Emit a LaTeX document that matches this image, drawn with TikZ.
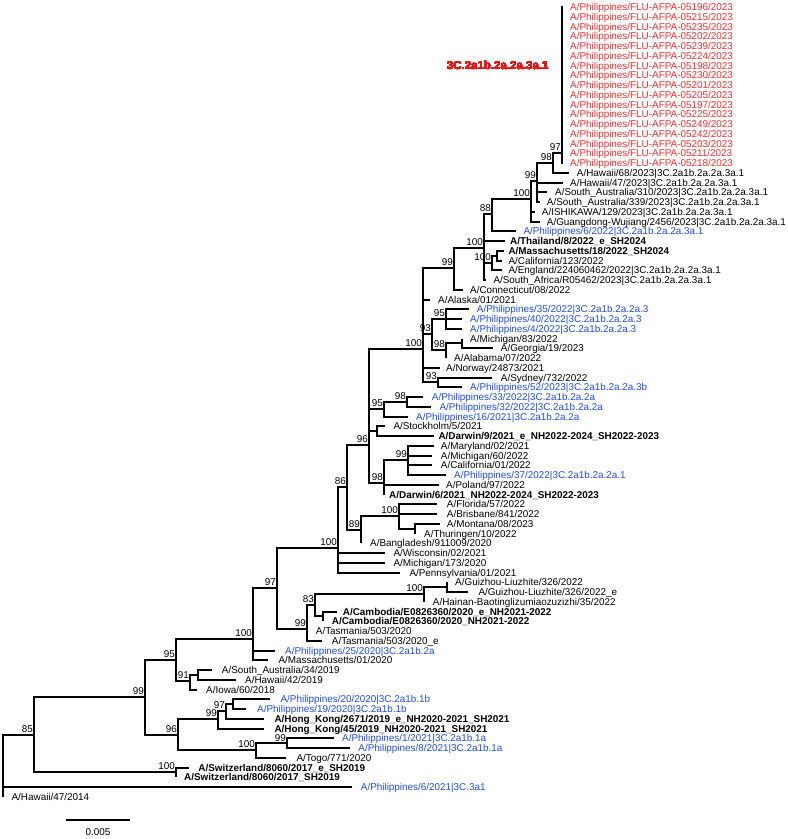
\documentclass[tikz,border=0pt]{standalone}
\usepackage{fontspec}
\setmainfont{Liberation Sans}
\definecolor{tipred}{RGB}{255,45,45}
\definecolor{tipblue}{RGB}{30,75,255}
\definecolor{cladered}{RGB}{235,20,20}
\newcommand{\treefont}{\fontsize{9.9pt}{11pt}\selectfont}
% one tip: row, end of branch, start of label, parent, style, text
\newcommand{\leaf}[6]{%
  \coordinate (e#1) at (#2,{7+9.75*(#1-1)});
  \node[#5] (t#1) at (#3,{7+9.75*(#1-1)}) {#6};
  \draw[branch] (#4) |- (e#1);}

\begin{document}
\begin{tikzpicture}[x=1pt,y=-1pt,
    branch/.style={line width=2pt},
    lab/.style={anchor=base west,inner sep=0pt,yshift=-3.55pt,font=\treefont},
    redlab/.style={lab,text=tipred},
    bluelab/.style={lab,text=tipblue},
    vaclab/.style={lab,font=\treefont\bfseries},
    bs/.style={anchor=base east,inner sep=0pt,xshift=-1pt,yshift=2.9pt,font=\treefont}]
\useasboundingbox (0,0) rectangle (788,839);

% internal nodes
\coordinate (root) at (3,766);
\coordinate (n85) at (34,735);
\coordinate (n99d) at (145,697);
\coordinate (n95c) at (176,660);
\coordinate (n100b) at (253,639);
\coordinate (n97) at (277,588);
\coordinate (n100c) at (338,548);
\coordinate (n86) at (347,487);
\coordinate (n96) at (369,445);
\coordinate (nMain) at (423,349);
\coordinate (n99b) at (454,268);
\coordinate (n100t) at (484,248);
\coordinate (n88) at (492,214);
\coordinate (n100a) at (531,199);
\coordinate (n99) at (537,181);
\coordinate (n98) at (553,163);
\coordinate (nR) at (562,153);
\coordinate (nMass) at (492,263);
\coordinate (nMC) at (497,256);
\coordinate (n93) at (432,334);
\coordinate (n95a) at (446,319);
\coordinate (n98a) at (446,350);
\coordinate (nMG) at (462,343);
\coordinate (n93s) at (438,382);
\coordinate (n95b) at (384,409);
\coordinate (n98b) at (407,402);
\coordinate (nSt) at (377,431);
\coordinate (n98c) at (384,483);
\coordinate (n99c) at (408,460);
\coordinate (n89) at (361,530);
\coordinate (nF100) at (399,516);
\coordinate (nMT) at (415,529);
\coordinate (n99cam) at (307,629);
\coordinate (n83) at (315,605);
\coordinate (nGz100) at (424,594);
\coordinate (nGz) at (447,587);
\coordinate (nCam) at (323,616);
\coordinate (n91) at (190,681);
\coordinate (nSH) at (198,675);
\coordinate (n96b) at (178,735);
\coordinate (n99e) at (218,719);
\coordinate (n97b) at (226,711);
\coordinate (nPh) at (233,704);
\coordinate (n100d) at (256,750);
\coordinate (n99f) at (287,743);
\coordinate (n100sw) at (176,772);

% backbone
\foreach \a/\b in {root/n85,n85/n99d,n85/n100sw,n99d/n95c,n99d/n96b,
    n95c/n100b,n95c/n91,n91/nSH,n100b/n97,n97/n100c,n97/n99cam,
    n99cam/n83,n83/nGz100,n83/nCam,nGz100/nGz,n100c/n86,n86/n96,n86/n89,
    n89/nF100,nF100/nMT,n96/nMain,n96/n95b,n96/nSt,n96/n98c,n95b/n98b,
    n98c/n99c,nMain/n99b,nMain/n93,nMain/n93s,n93/n95a,n93/n98a,n98a/nMG,
    n99b/n100t,n100t/n88,n100t/nMass,nMass/nMC,n88/n100a,n100a/n99,
    n99/n98,n98/nR,n96b/n99e,n96b/n100d,n99e/n97b,n97b/nPh,n100d/n99f}
  \draw[branch] (\a) |- (\b);

% bootstrap values
\foreach \n/\v in {nR/97,n98/98,n99/99,n100a/100,n88/88,n100t/100,nMass/100,
    n99b/99,nMain/100,n93/93,n95a/95,n98a/98,n93s/93,n95b/95,n98b/98,n96/96,
    n98c/98,n99c/99,n86/86,n89/89,nF100/100,n100c/100,nGz100/100,n83/83,
    n99cam/99,n97/97,n100b/100,n95c/95,n91/91,n99d/99,n96b/96,n99e/99,
    n97b/97,n100d/100,n100sw/100,n85/85}
  \node[bs] (b\n) at (\n) {\v};
\node[bs,yshift=-1.4pt] (bn99f) at (n99f) {99};

% 3C.2a1b.2a.2a.3a.1 clade
\foreach \r/\id in {1/05196,2/05215,3/05235,4/05202,5/05239,6/05224,7/05198,
    8/05230,9/05201,10/05205,11/05197,12/05225,13/05249,14/05242,15/05203,
    16/05211,17/05218}
  \leaf{\r}{563}{570}{nR}{redlab}{A/Philippines/FLU-AFPA-\id/2023}
\node[anchor=base west,inner sep=0pt,text=cladered,
  font=\fontsize{11.5pt}{13pt}\selectfont\bfseries] (clade) at (446.7,69.8) {3C.2a1b.2a.2a.3a.1};

% tips
\leaf{18}{569}{576.7}{n98}{lab}{A/Hawaii/68/2023|3C.2a1b.2a.2a.3a.1}
\leaf{19}{563}{570}{n99}{lab}{A/Hawaii/47/2023|3C.2a1b.2a.2a.3a.1}
\leaf{20}{547}{555}{n99}{lab}{A/South\_Australia/310/2023|3C.2a1b.2a.2a.3a.1}
\leaf{21}{540}{546.7}{n99}{lab}{A/South\_Australia/339/2023|3C.2a1b.2a.2a.3a.1}
\leaf{22}{535}{541.7}{n100a}{lab}{A/ISHIKAWA/129/2023|3C.2a1b.2a.2a.3a.1}
\leaf{23}{540}{546.7}{n100a}{lab}{A/Guangdong-Wujiang/2456/2023|3C.2a1b.2a.2a.3a.1}
\leaf{24}{516}{523.3}{n88}{bluelab}{A/Philippines/6/2022|3C.2a1b.2a.2a.3a.1}
\leaf{25}{505}{510}{n100t}{vaclab}{A/Thailand/8/2022\_e\_SH2024}
\leaf{26}{504}{508.3}{nMC}{vaclab}{A/Massachusetts/18/2022\_SH2024}
\leaf{27}{502}{508.3}{nMC}{lab}{A/California/123/2022}
\leaf{28}{502}{508.3}{nMass}{lab}{A/England/224060462/2022|3C.2a1b.2a.2a.3a.1}
\leaf{29}{486}{493.3}{n100t}{lab}{A/South\_Africa/R05462/2023|3C.2a1b.2a.2a.3a.1}
\leaf{30}{463}{470}{n99b}{lab}{A/Connecticut/08/2022}
\leaf{31}{430}{438}{nMain}{lab}{A/Alaska/01/2021}
\leaf{32}{469}{476.7}{n95a}{bluelab}{A/Philippines/35/2022|3C.2a1b.2a.2a.3}
\leaf{33}{462}{470}{n95a}{bluelab}{A/Philippines/40/2022|3C.2a1b.2a.2a.3}
\leaf{34}{462}{470}{n95a}{bluelab}{A/Philippines/4/2022|3C.2a1b.2a.2a.3}
\leaf{35}{462}{470}{nMG}{lab}{A/Michigan/83/2022}
\leaf{36}{493}{500.7}{nMG}{lab}{A/Georgia/19/2023}
\leaf{37}{446}{454}{n98a}{lab}{A/Alabama/07/2022}
\leaf{38}{440}{446}{nMain}{lab}{A/Norway/24873/2021}
\leaf{39}{492}{500.7}{n93s}{lab}{A/Sydney/732/2022}
\leaf{40}{462}{470}{n93s}{bluelab}{A/Philippines/52/2023|3C.2a1b.2a.2a.3b}
\leaf{41}{423}{431.7}{n98b}{bluelab}{A/Philippines/33/2022|3C.2a1b.2a.2a}
\leaf{42}{431}{439.3}{n98b}{bluelab}{A/Philippines/32/2022|3C.2a1b.2a.2a}
\leaf{43}{408}{416}{n95b}{bluelab}{A/Philippines/16/2021|3C.2a1b.2a.2a}
\leaf{44}{385}{393.3}{nSt}{lab}{A/Stockholm/5/2021}
\leaf{45}{434}{438.3}{nSt}{vaclab}{A/Darwin/9/2021\_e\_NH2022-2024\_SH2022-2023}
\leaf{46}{434}{440.7}{n99c}{lab}{A/Maryland/02/2021}
\leaf{47}{432}{440.7}{n99c}{lab}{A/Michigan/60/2022}
\leaf{48}{432}{440.7}{n99c}{lab}{A/California/01/2022}
\leaf{49}{446}{454}{n99c}{bluelab}{A/Philippines/37/2022|3C.2a1b.2a.2a.1}
\leaf{50}{439}{446}{n98c}{lab}{A/Poland/97/2022}
\leaf{51}{384}{389}{n98c}{vaclab}{A/Darwin/6/2021\_NH2022-2024\_SH2022-2023}
\leaf{52}{437}{446.7}{nF100}{lab}{A/Florida/57/2022}
\leaf{53}{437}{446.7}{nF100}{lab}{A/Brisbane/841/2022}
\leaf{54}{440}{446.7}{nMT}{lab}{A/Montana/08/2023}
\leaf{55}{415}{424}{nMT}{lab}{A/Thuringen/10/2022}
\leaf{56}{361}{370}{n89}{lab}{A/Bangladesh/911009/2020}
\leaf{57}{385}{393.3}{n100c}{lab}{A/Wisconsin/02/2021}
\leaf{58}{385}{393.3}{n100c}{lab}{A/Michigan/173/2020}
\leaf{59}{400}{409.3}{n100c}{lab}{A/Pennsylvania/01/2021}
\leaf{60}{447}{455}{nGz}{lab}{A/Guizhou-Liuzhite/326/2022}
\leaf{61}{468}{478.3}{nGz}{lab}{A/Guizhou-Liuzhite/326/2022\_e}
\leaf{62}{424}{432.7}{nGz100}{lab}{A/Hainan-Baotinglizumiaozuzizhi/35/2022}
\leaf{63}{337}{342.7}{nCam}{vaclab}{A/Cambodia/E0826360/2020\_e\_NH2021-2022}
\leaf{64}{323}{331.7}{nCam}{vaclab}{A/Cambodia/E0826360/2020\_NH2021-2022}
\leaf{65}{307}{315.7}{n99cam}{lab}{A/Tasmania/503/2020}
\leaf{66}{322}{331.7}{n99cam}{lab}{A/Tasmania/503/2020\_e}
\leaf{67}{275}{285}{n100b}{bluelab}{A/Philippines/25/2020|3C.2a1b.2a}
\leaf{68}{268}{278.3}{n100b}{lab}{A/Massachusetts/01/2020}
\leaf{69}{212}{221.7}{nSH}{lab}{A/South\_Australia/34/2019}
\leaf{70}{236}{245}{nSH}{lab}{A/Hawaii/42/2019}
\leaf{71}{197}{206}{n91}{lab}{A/Iowa/60/2018}
\leaf{72}{270}{280.4}{nPh}{bluelab}{A/Philippines/20/2020|3C.2a1b.1b}
\leaf{73}{246}{257}{nPh}{bluelab}{A/Philippines/19/2020|3C.2a1b.1b}
\leaf{74}{264}{274.3}{n97b}{vaclab}{A/Hong\_Kong/2671/2019\_e\_NH2020-2021\_SH2021}
\leaf{75}{264}{274.3}{n99e}{vaclab}{A/Hong\_Kong/45/2019\_NH2020-2021\_SH2021}
\leaf{76}{334}{342}{n99f}{bluelab}{A/Philippines/1/2021|3C.2a1b.1a}
\leaf{77}{350}{358.2}{n99f}{bluelab}{A/Philippines/8/2021|3C.2a1b.1a}
\leaf{78}{286}{296.4}{n100d}{lab}{A/Togo/771/2020}
\leaf{79}{189}{198.2}{n100sw}{vaclab}{A/Switzerland/8060/2017\_e\_SH2019}
\leaf{80}{176}{184}{n100sw}{vaclab}{A/Switzerland/8060/2017\_SH2019}
\leaf{81}{352}{360.7}{root}{bluelab}{A/Philippines/6/2021|3C.3a1}
\leaf{82}{3}{11.4}{root}{lab}{A/Hawaii/47/2014}

% scale bar
\coordinate (sb0) at (66,820);
\coordinate (sb1) at (130,820);
\draw[line width=1.5pt] (sb0) -- (sb1);
\node[lab,anchor=base] (sbl) at (98,831.7) {0.005};
\end{tikzpicture}
\end{document}
